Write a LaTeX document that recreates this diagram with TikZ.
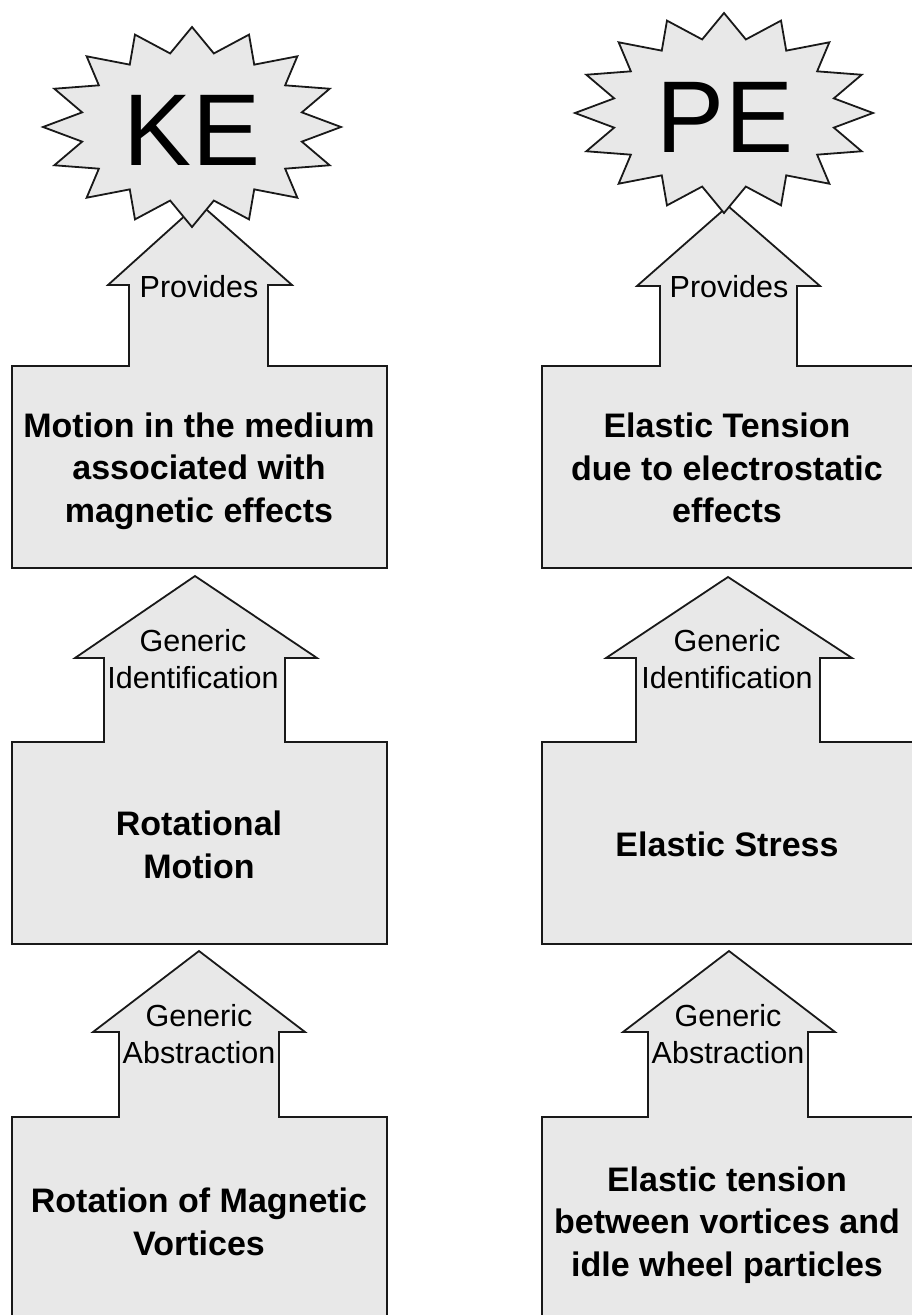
\documentclass[tikz,border=0pt]{standalone}
\usepackage{fontspec}
\setmainfont{Liberation Sans}
\definecolor{boxgray}{RGB}{232,232,232}
\definecolor{edge}{RGB}{25,25,25}
\newcommand{\blockarrowpath}[8]{% sl sr by wy wl wr tx ty
  \fill[boxgray] (#1,#3+3) -- (#1,#4) -- (#5,#4) -- (#7,#8) -- (#6,#4) -- (#2,#4) -- (#2,#3+3) -- cycle;
  \draw[outline, line cap=rect] (#1,#3) -- (#1,#4) -- (#5,#4) -- (#7,#8) -- (#6,#4) -- (#2,#4) -- (#2,#3);
}
\newcommand{\burstpath}[2]{% cx cy
  \draw[burst] plot[samples at={0,...,31}, variable=\k]
    ({#1+ifthenelse(isodd(\k),112,149)*cos(90+11.25*\k)},
     {#2-ifthenelse(isodd(\k),75,100)*sin(90+11.25*\k)}) -- cycle;
}
\begin{document}
\begin{tikzpicture}[x=1pt,y=-1pt,
  outline/.style={draw=edge, line width=1.8pt, line join=miter},
  blockbox/.style={draw=edge, fill=boxgray, line width=1.8pt, rectangle, inner sep=0pt, outer sep=0pt, anchor=north west},
  boxtext/.style={font=\fontsize{34}{42.5}\selectfont\bfseries, align=center, inner sep=0pt},
  arrowtext/.style={font=\fontsize{30.5}{37}\selectfont, align=center, inner sep=0pt},
  bursttext/.style={font=\fontsize{102}{110}\selectfont, inner sep=0pt, anchor=base},
  burst/.style={draw=edge, fill=boxgray, line width=1.8pt, line join=miter},
]
\useasboundingbox (0,0) rectangle (912,1315);
\clip (0,0) rectangle (912,1315);

% boxes
\node[blockbox, minimum width=375pt, minimum height=202pt] (L1) at (12,366) {};
\node[blockbox, minimum width=375pt, minimum height=202pt] (L2) at (12,742) {};
\node[blockbox, minimum width=375pt, minimum height=230pt] (L3) at (12,1117) {};
\node[blockbox, minimum width=400pt, minimum height=202pt] (R1) at (542,366) {};
\node[blockbox, minimum width=400pt, minimum height=202pt] (R2) at (542,742) {};
\node[blockbox, minimum width=400pt, minimum height=230pt] (R3) at (542,1117) {};

% block arrows
\blockarrowpath{129}{268}{366}{285}{108}{292}{199}{203}
\blockarrowpath{660}{797}{366}{286}{637}{820}{728}{206}
\blockarrowpath{104}{285}{742}{658}{75}{317}{195}{576}
\blockarrowpath{636}{820}{742}{658}{606}{852}{728}{577}
\blockarrowpath{119}{279}{1117}{1032}{93}{305}{199}{951}
\blockarrowpath{648}{808}{1117}{1032}{623}{835}{729}{951}

% starbursts
\burstpath{192}{127}
\burstpath{724}{113}

% texts
\node[bursttext] (ke) at (192,165) {KE};
\node[bursttext] (pe) at (725,152) {PE};

\node[arrowtext, anchor=base] (p1) at (199,297) {Provides};
\node[arrowtext, anchor=base] (p2) at (729,297) {Provides};
\node[arrowtext] (g1) at (193,659) {Generic\\Identification};
\node[arrowtext] (g2) at (727,659) {Generic\\Identification};
\node[arrowtext] (g3) at (199,1034) {Generic\\Abstraction};
\node[arrowtext] (g4) at (728,1034) {Generic\\Abstraction};

\node[boxtext] (t1) at (199,471) {Motion in the medium\\associated with\\magnetic effects};
\node[boxtext] (t2) at (199,845) {Rotational\\Motion};
\node[boxtext] (t3) at (199,1222) {Rotation of Magnetic\\Vortices};
\node[boxtext] (t4) at (727,468) {Elastic Tension\\due to electrostatic\\effects};
\node[boxtext] (t5) at (727,844) {Elastic Stress};
\node[boxtext] (t6) at (727,1225) {Elastic tension\\between vortices and\\idle wheel particles};
\end{tikzpicture}
\end{document}
